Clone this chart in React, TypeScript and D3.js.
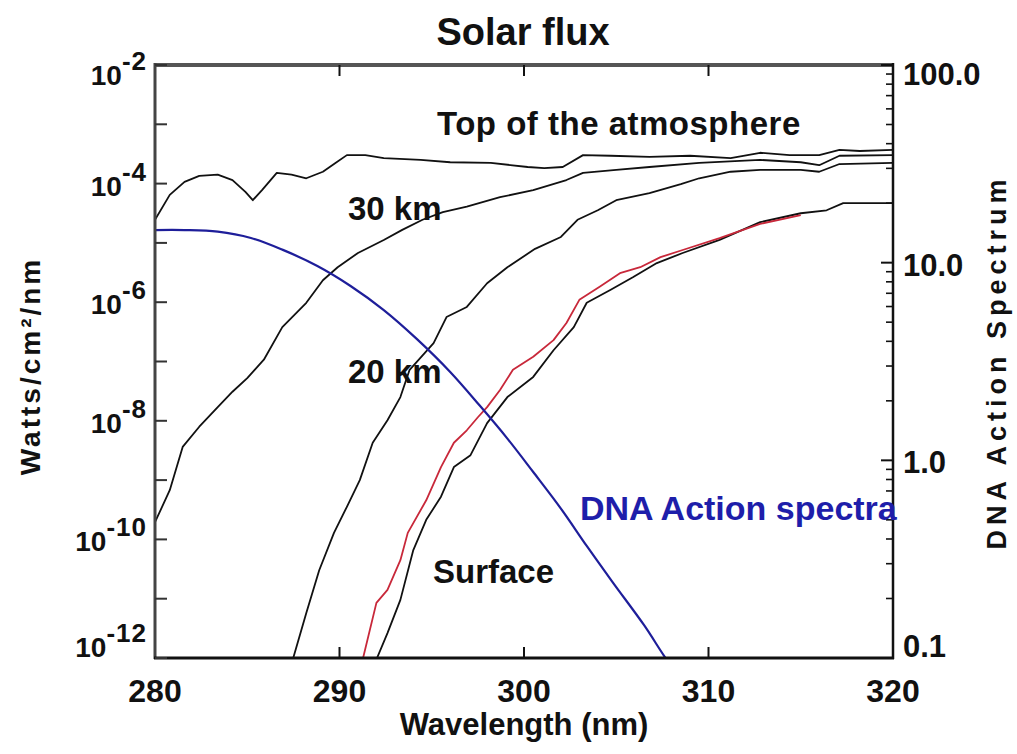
import React from 'react';
import * as d3 from 'd3';

// wavelength axis
const xTicks = [280, 290, 300, 310, 320];
const xTickLabels = ['280', '290', '300', '310', '320'];
// left axis: flux, labelled every second decade
const leftExps = [-2, -4, -6, -8, -10, -12];
// right axis: DNA action spectrum
const rightTicks = [100, 10, 1, 0.1];
const rightTickLabels = ['100.0', '10.0', '1.0', '0.1'];

// series: wavelength (nm) and log10 of flux (W/cm2/nm)
const toaWl = [280.0, 280.8, 281.6, 282.4, 283.4, 284.2, 284.9, 285.3, 285.8, 286.6, 287.4, 288.2, 289.1, 289.8, 290.4, 291.4, 292.4, 294.4, 296.0, 298.2, 300.2, 301.1, 302.1, 303.2, 304.7, 306.8, 309.0, 311.2, 312.8, 314.4, 316.0, 317.1, 318.2, 320.0];
const toaLog = [-4.61, -4.19, -3.97, -3.87, -3.85, -3.94, -4.14, -4.28, -4.11, -3.82, -3.85, -3.91, -3.80, -3.65, -3.52, -3.52, -3.57, -3.60, -3.64, -3.65, -3.72, -3.74, -3.72, -3.52, -3.53, -3.55, -3.53, -3.57, -3.48, -3.52, -3.52, -3.43, -3.45, -3.43];

const km30Wl = [280.0, 280.8, 281.5, 282.4, 283.4, 284.2, 285.0, 285.9, 286.9, 288.2, 289.1, 289.9, 291.0, 292.4, 293.4, 294.5, 295.6, 296.9, 298.7, 300.5, 302.3, 303.2, 305.0, 306.8, 309.5, 312.8, 315.0, 316.0, 317.1, 320.0];
const km30Log = [-9.71, -9.17, -8.44, -8.10, -7.77, -7.51, -7.28, -6.97, -6.42, -6.01, -5.63, -5.41, -5.17, -4.95, -4.78, -4.61, -4.48, -4.39, -4.23, -4.11, -3.94, -3.82, -3.77, -3.72, -3.65, -3.60, -3.64, -3.69, -3.53, -3.52];

const km20Wl = [287.4, 288.2, 288.9, 289.7, 290.4, 291.1, 291.8, 292.6, 293.3, 293.8, 295.1, 295.8, 296.9, 298.0, 299.1, 300.6, 302.0, 302.9, 304.0, 305.0, 306.8, 308.5, 309.5, 311.2, 312.8, 315.0, 316.0, 317.1, 320.0];
const km20Log = [-12.1, -11.24, -10.52, -9.89, -9.45, -9.00, -8.37, -7.99, -7.60, -7.14, -6.69, -6.25, -6.08, -5.68, -5.41, -5.10, -4.90, -4.61, -4.45, -4.28, -4.16, -4.01, -3.91, -3.80, -3.77, -3.77, -3.80, -3.67, -3.65];

const surfRedWl = [291.2, 292.0, 292.6, 293.3, 293.7, 294.7, 295.5, 296.2, 296.9, 297.5, 298.0, 298.7, 299.4, 300.5, 301.6, 302.3, 303.0, 304.1, 305.2, 306.3, 307.4, 308.6, 310.6, 312.8, 315.0];
const surfRedLog = [-12.1, -11.07, -10.85, -10.35, -9.89, -9.34, -8.78, -8.37, -8.16, -7.94, -7.77, -7.48, -7.14, -6.92, -6.64, -6.35, -5.96, -5.74, -5.51, -5.41, -5.24, -5.12, -4.92, -4.68, -4.53];

const surfWl = [291.9, 292.6, 293.3, 294.0, 294.7, 295.5, 296.2, 297.1, 298.0, 299.1, 300.5, 301.6, 302.7, 303.4, 304.7, 305.9, 307.2, 308.6, 310.6, 312.8, 315.0, 316.4, 317.3, 320.0];
const surfLog = [-12.1, -11.58, -11.02, -10.18, -9.67, -9.28, -8.78, -8.58, -8.04, -7.60, -7.26, -6.81, -6.42, -6.01, -5.79, -5.58, -5.34, -5.17, -4.95, -4.65, -4.50, -4.45, -4.33, -4.33];

// DNA action spectrum, log10 of relative value (right axis)
const dnaWl = [280.0, 281.6, 283.4, 285.2, 286.9, 288.8, 290.6, 292.4, 294.2, 296.0, 297.6, 299.1, 300.5, 302.0, 303.4, 304.8, 306.5, 307.6, 308.0];
const dnaLog = [1.165, 1.165, 1.157, 1.125, 1.066, 0.983, 0.882, 0.760, 0.613, 0.447, 0.277, 0.110, -0.059, -0.244, -0.433, -0.616, -0.833, -0.99, -1.04];

const font = 'Liberation Sans, Arial, Helvetica, sans-serif';

const zip = (a: number[], b: number[]) => a.map((v, i) => [v, b[i]] as [number, number]);

export default function App() {
  const width = 1017;
  const height = 754;
  const left = 155, right = 893, top = 65, bottom = 658;

  const x = d3.scaleLinear().domain([280, 320]).range([left, right]);
  const yL = d3.scaleLog().domain([1e-12, 1e-2]).range([bottom, top]);
  const yR = d3.scaleLog().domain([0.1, 100]).range([bottom, top]);

  const fluxLine = d3.line<[number, number]>()
    .x(d => x(d[0]))
    .y(d => yL(Math.pow(10, d[1])));
  const dnaLine = d3.line<[number, number]>()
    .x(d => x(d[0]))
    .y(d => yR(Math.pow(10, d[1])))
    .curve(d3.curveCatmullRom);

  const decades = d3.range(-12, -1); // every decade gets a tick
  const minor: number[] = [];
  [-1, 0, 1].forEach(k => {
    for (let m = 2; m <= 9; m++) minor.push(m * Math.pow(10, k));
  });

  const clamp = (v: number, lo: number, hi: number) => Math.max(lo, Math.min(hi, v));

  return (
    <div style={{ position: 'absolute', left: 0, top: 0 }}>
      <svg width={width} height={height} style={{ display: 'block', background: '#fff' }}>
        <defs>
          <clipPath id="plot">
            <rect x={left} y={top} width={right - left} height={bottom - top} />
          </clipPath>
        </defs>

        <text x={523} y={45} textAnchor="middle" fontFamily={font} fontWeight="bold" fontSize={38} fill="#111">Solar flux</text>

        {/* curves */}
        <g clipPath="url(#plot)" fill="none" strokeLinejoin="round">
          <path d={fluxLine(zip(toaWl, toaLog)) || ''} stroke="#111" strokeWidth={1.8} />
          <path d={fluxLine(zip(km30Wl, km30Log)) || ''} stroke="#111" strokeWidth={1.8} />
          <path d={fluxLine(zip(km20Wl, km20Log)) || ''} stroke="#111" strokeWidth={1.8} />
          <path d={fluxLine(zip(surfWl, surfLog)) || ''} stroke="#111" strokeWidth={1.8} />
          <path d={fluxLine(zip(surfRedWl, surfRedLog)) || ''} stroke="#c8283a" strokeWidth={1.8} />
          <path d={dnaLine(zip(dnaWl, dnaLog)) || ''} stroke="#1e1e9a" strokeWidth={2.2} />
        </g>

        {/* frame */}
        <line x1={left} x2={right} y1={top} y2={top} stroke="#555" strokeWidth={4} />
        <line x1={left} x2={left} y1={top - 2} y2={bottom + 1} stroke="#444" strokeWidth={3} />
        <line x1={left - 1} x2={right + 1} y1={bottom} y2={bottom} stroke="#111" strokeWidth={3} />
        <line x1={right} x2={right} y1={top - 2} y2={bottom + 1} stroke="#111" strokeWidth={2.5} />

        {/* x ticks */}
        {xTicks.slice(1, -1).map(t => (
          <g key={'xt' + t} stroke="#111" strokeWidth={2}>
            <line x1={x(t)} x2={x(t)} y1={bottom} y2={bottom - 11} />
            <line x1={x(t)} x2={x(t)} y1={top} y2={top + 11} />
          </g>
        ))}
        {xTicks.map((t, i) => (
          <text key={'xl' + t} x={x(t)} y={702} textAnchor="middle" fontFamily={font} fontWeight="bold" fontSize={32} fill="#111">{xTickLabels[i]}</text>
        ))}
        <text x={524} y={735} textAnchor="middle" fontFamily={font} fontWeight="bold" fontSize={31} fill="#111">Wavelength (nm)</text>

        {/* left axis */}
        {decades.map(e => (
          <line key={'lt' + e} x1={left} x2={left + 12} y1={yL(Math.pow(10, e))} y2={yL(Math.pow(10, e))} stroke="#333" strokeWidth={2} />
        ))}
        {leftExps.map(e => {
          const yb = clamp(yL(Math.pow(10, e)) + 12, 85, 657);
          return (
            <text key={'ll' + e} x={147} y={yb} textAnchor="end" fontFamily={font} fontWeight="bold" fontSize={28} fill="#111">
              10<tspan dy={-15} fontSize={26} letterSpacing={1}>{String(e)}</tspan>
            </text>
          );
        })}
        <text transform="translate(40,366) rotate(-90)" textAnchor="middle" fontFamily={font} fontWeight="bold" fontSize={28} letterSpacing={3} fill="#111">Watts/cm²/nm</text>

        {/* right axis */}
        {rightTicks.map(t => (
          <line key={'rt' + t} x1={right} x2={right - 12} y1={yR(t)} y2={yR(t)} stroke="#111" strokeWidth={2} />
        ))}
        {minor.map(t => (
          <line key={'rm' + t} x1={right} x2={right - 7} y1={yR(t)} y2={yR(t)} stroke="#111" strokeWidth={1.6} />
        ))}
        {rightTicks.map((t, i) => (
          <text key={'rl' + t} x={903} y={clamp(yR(t) + 13, 85, 657)} fontFamily={font} fontWeight="bold" fontSize={31} fill="#111">{rightTickLabels[i]}</text>
        ))}
        <text transform="translate(1006,362) rotate(-90)" textAnchor="middle" fontFamily={font} fontWeight="bold" fontSize={27} letterSpacing={5} fill="#111">DNA Action Spectrum</text>

        {/* in-plot labels */}
        <text x={437} y={135} fontFamily={font} fontWeight="bold" fontSize={33} letterSpacing={0.5} fill="#111">Top of the atmosphere</text>
        <text x={348} y={220} fontFamily={font} fontWeight="bold" fontSize={33} fill="#111">30 km</text>
        <text x={348} y={383} fontFamily={font} fontWeight="bold" fontSize={33} fill="#111">20 km</text>
        <text x={433} y={583} fontFamily={font} fontWeight="bold" fontSize={33} fill="#111">Surface</text>
        <text x={580} y={520} fontFamily={font} fontWeight="bold" fontSize={34} fill="#1e1eaa">DNA Action spectra</text>
      </svg>
    </div>
  );
}
